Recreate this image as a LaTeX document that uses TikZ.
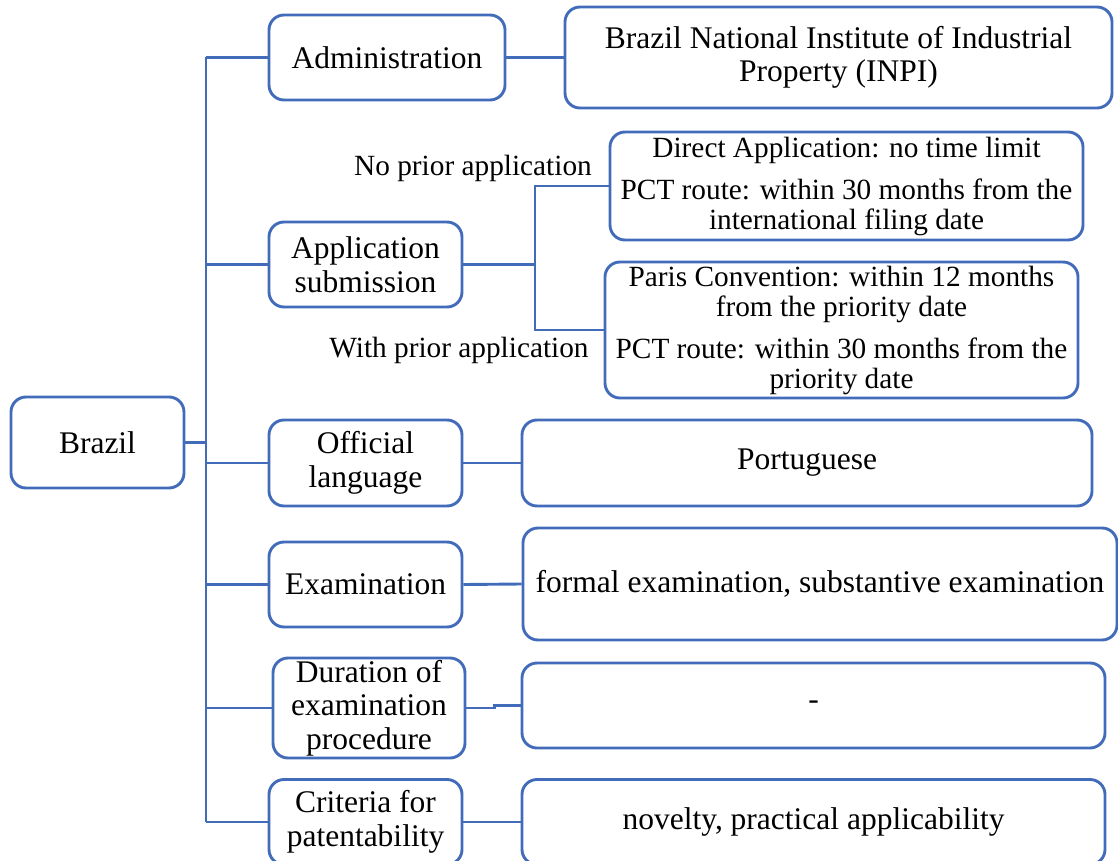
\documentclass[tikz,border=0pt]{standalone}
\usepackage{fontspec}
\setmainfont{Liberation Serif}
\definecolor{bl}{RGB}{66,108,186}
\begin{document}
\begin{tikzpicture}[x=1pt,y=-1pt,
  box/.style={draw=bl,line width=2.9pt,rounded corners=15pt,fill=white,inner sep=0pt,align=center,
    font=\fontsize{31.5}{33.5}\selectfont},
  sbox/.style={box,font=\fontsize{29.3}{30}\selectfont},
  lbl/.style={inner sep=0pt,font=\fontsize{29.3}{30}\selectfont},
  conn/.style={draw=bl,line width=2.9pt}]
\useasboundingbox (0,0) rectangle (1118,861);
% nodes
\node[box,minimum width=173pt,minimum height=91pt] (brazil) at (97.5,442.5) {Brazil};
\node[box,minimum width=236pt,minimum height=85pt] (admin) at (387,57.5) {Administration};
\node[box,minimum width=547pt,minimum height=101pt] (inpi) at (838.5,57.5) {Brazil National Institute of Industrial\\Property (INPI)};
\node[box,minimum width=193pt,minimum height=85pt] (appsub) at (365.5,264.5) {Application\\submission};
\node[sbox,minimum width=473pt,minimum height=108pt] (direct) at (846.5,186) {Direct Application: no time limit\\[12pt]PCT route: within 30 months from the\\international filing date};
\node[sbox,minimum width=473pt,minimum height=136pt] (paris) at (841.5,330) {Paris Convention: within 12 months\\from the priority date\\[12pt]PCT route: within 30 months from the\\priority date};
\node[box,minimum width=193pt,minimum height=86pt] (official) at (365.5,463) {Official\\language};
\node[box,minimum width=570pt,minimum height=86pt] (portuguese) at (807,463) {Portuguese};
\node[box,minimum width=193pt,minimum height=85pt] (exam) at (365.5,584.5) {Examination};
\node[box,minimum width=594pt,minimum height=112pt] (formal) at (820,584) {formal examination, substantive examination};
\node[box,minimum width=192pt,minimum height=100pt] (duration) at (369,708) {Duration of\\examination\\procedure};
\node[box,minimum width=583pt,minimum height=85pt] (dash) at (813.5,705.5) {-};
\node[box,minimum width=193pt,minimum height=85pt] (criteria) at (365.5,822) {Criteria for\\patentability};
\node[box,minimum width=583pt,minimum height=85pt] (novelty) at (813.5,822) {novelty, practical applicability};
% labels
\node[lbl] (noprior) at (473,168) {No prior application};
\node[lbl] (withprior) at (459,350) {With prior application};
% trunk
\coordinate (ttop) at (206,57.5);
\coordinate (tbot) at (206,822);
\coordinate (tbr) at (206,442.5);
\draw[conn] (ttop) -- (tbot);
\draw[conn] (brazil.east) -- (tbr);
\draw[conn] (ttop) -- (admin.west);
\draw[conn] (appsub.west) -- (appsub.west -| ttop);
\draw[conn] (official.west) -- (official.west -| ttop);
\draw[conn] (exam.west) -- (exam.west -| ttop);
\draw[conn] (duration.west) -- (duration.west -| ttop);
\draw[conn] (criteria.west) -- (tbot);
% right side connectors
\draw[conn] (admin.east) -- (inpi.west);
\coordinate (j) at (535,264.5);
\draw[conn] (appsub.east) -- (j);
\draw[conn] (j) |- (direct.west);
\draw[conn] (j) |- (paris.west);
\draw[conn] (official.east) -- (portuguese.west);
\draw[conn] (exam.east) -- (formal.west);
\draw[conn] (duration.east) -- ++(28,0) |- (dash.west);
\draw[conn] (criteria.east) -- (novelty.west);
\end{tikzpicture}
\end{document}
